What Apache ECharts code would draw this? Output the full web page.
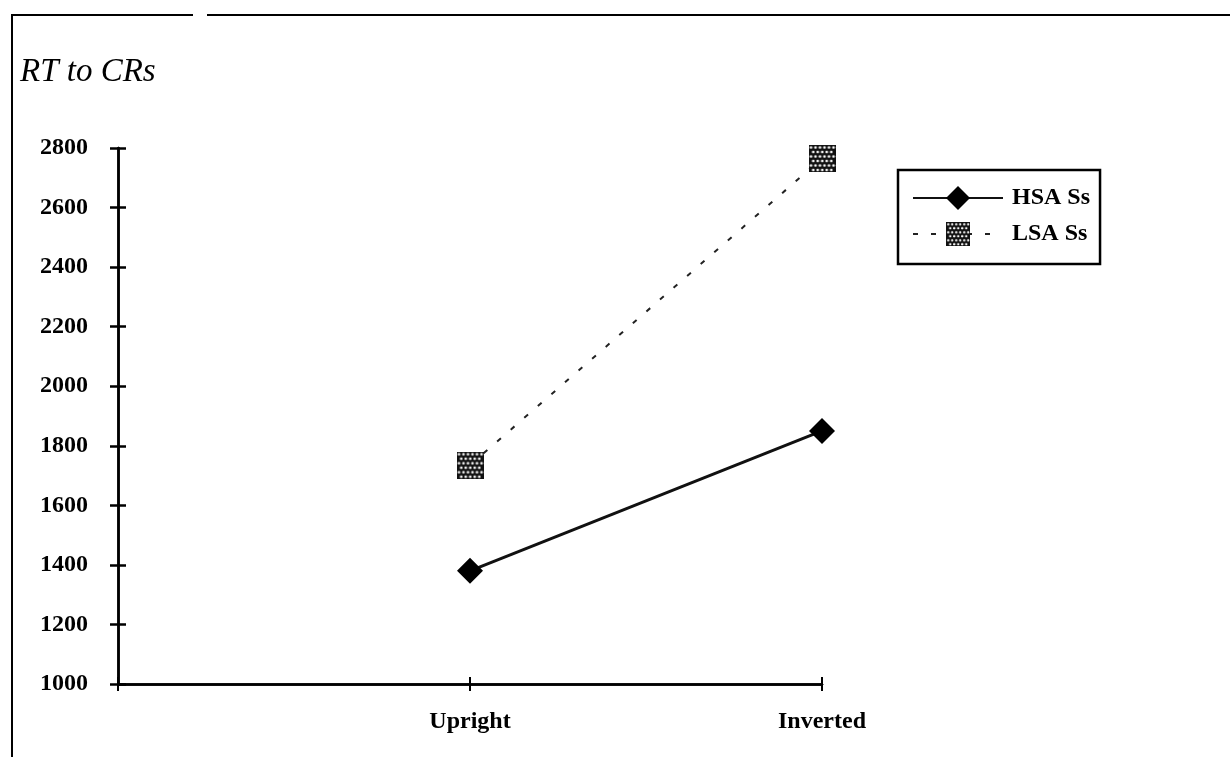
<!DOCTYPE html>
<html>
<head>
<meta charset="utf-8">
<script src="https://cdn.jsdelivr.net/npm/echarts@6/dist/echarts.min.js"></script>
<style>html,body{margin:0;padding:0;background:#fff}#c{width:1230px;height:757px}</style>
</head>
<body>
<div id="c"></div>
<script>
const categories = ['', 'Upright', 'Inverted'];
const hsaValues = ['-', 1380, 1850];
const lsaValues = ['-', 1735, 2765];
const yTicks = [1000, 1200, 1400, 1600, 1800, 2000, 2200, 2400, 2600, 2800];

const serif = '"Liberation Serif", "DejaVu Serif", serif';

// dotted square marker image
const pc = document.createElement('canvas');
pc.width = 54; pc.height = 54;
const pctx = pc.getContext('2d');
pctx.fillStyle = '#111'; pctx.fillRect(0, 0, 54, 54);
pctx.fillStyle = '#fff';
for (let r = 0; r < 6; r++) {
  for (let c = 0; c < 6; c++) {
    const x = 5 + c * 9 + (r % 2 ? 4.5 : 0);
    const y = 5 + r * 9;
    if (x > 52) continue;
    pctx.beginPath(); pctx.arc(x, y, 2.6, 0, Math.PI * 2); pctx.fill();
  }
}
const squareImg = 'image://' + pc.toDataURL();

const chart = echarts.init(document.getElementById('c'));
const axisBase = {
  axisLine: { show: true, lineStyle: { color: '#000', width: 2.5 } },
  splitLine: { show: false }
};
chart.setOption({
  animation: false,
  backgroundColor: '#fff',
  graphic: [
    { type: 'line', shape: { x1: 12, y1: 15, x2: 193, y2: 15 }, style: { stroke: '#000', lineWidth: 2 } },
    { type: 'line', shape: { x1: 207, y1: 15, x2: 1230, y2: 15 }, style: { stroke: '#000', lineWidth: 2 } },
    { type: 'line', shape: { x1: 12, y1: 14, x2: 12, y2: 757 }, style: { stroke: '#000', lineWidth: 2 } },
    { type: 'text', left: 20, top: 56, style: { text: 'RT to CRs', font: 'italic 33px ' + serif, fill: '#000' } }
  ],
  grid: { left: 118, right: 408, top: 148, bottom: 73, containLabel: false },
  legend: {
    left: 898, top: 170,
    orient: 'vertical',
    padding: [16, 10, 18, 14],
    itemWidth: 90, itemHeight: 30, itemGap: 12,
    borderColor: '#000', borderWidth: 2.5,
    textStyle: { fontFamily: serif, fontWeight: 'bold', fontSize: 24, color: '#000', padding: [0, 0, 0, 4] },
    data: ['HSA Ss', 'LSA Ss']
  },
  xAxis: [
    Object.assign({}, axisBase, {
      type: 'category', data: categories, boundaryGap: false,
      axisTick: { show: true, length: 7, lineStyle: { color: '#000', width: 2 } },
      axisLabel: { color: '#000', fontFamily: serif, fontWeight: 'bold', fontSize: 24, margin: 26 }
    }),
    Object.assign({}, axisBase, {
      type: 'category', data: categories, boundaryGap: false, position: 'bottom',
      axisTick: { show: true, inside: true, length: 7, lineStyle: { color: '#000', width: 2 } },
      axisLabel: { show: false }
    })
  ],
  yAxis: [
    Object.assign({}, axisBase, {
      type: 'value', min: 1000, max: 2800, interval: 200,
      axisTick: { show: true, length: 8, lineStyle: { color: '#000', width: 2.5 } },
      axisLabel: { color: '#000', fontFamily: serif, fontWeight: 'bold', fontSize: 24, margin: 30,
        formatter: v => yTicks.includes(v) ? String(v) : '' }
    }),
    Object.assign({}, axisBase, {
      type: 'value', min: 1000, max: 2800, interval: 200, position: 'left',
      axisTick: { show: true, inside: true, length: 8, lineStyle: { color: '#000', width: 2.5 } },
      axisLabel: { show: false }
    })
  ],
  series: [
    {
      name: 'HSA Ss', type: 'line', data: hsaValues,
      symbol: 'diamond', symbolSize: 26,
      lineStyle: { color: '#111', width: 3 },
      itemStyle: { color: '#000' }
    },
    {
      name: 'LSA Ss', type: 'line', data: lsaValues,
      symbol: squareImg, symbolSize: 27,
      lineStyle: { color: '#222', width: 2, type: [5, 13] },
      itemStyle: { color: '#111' }
    }
  ]
});
</script>
</body>
</html>
